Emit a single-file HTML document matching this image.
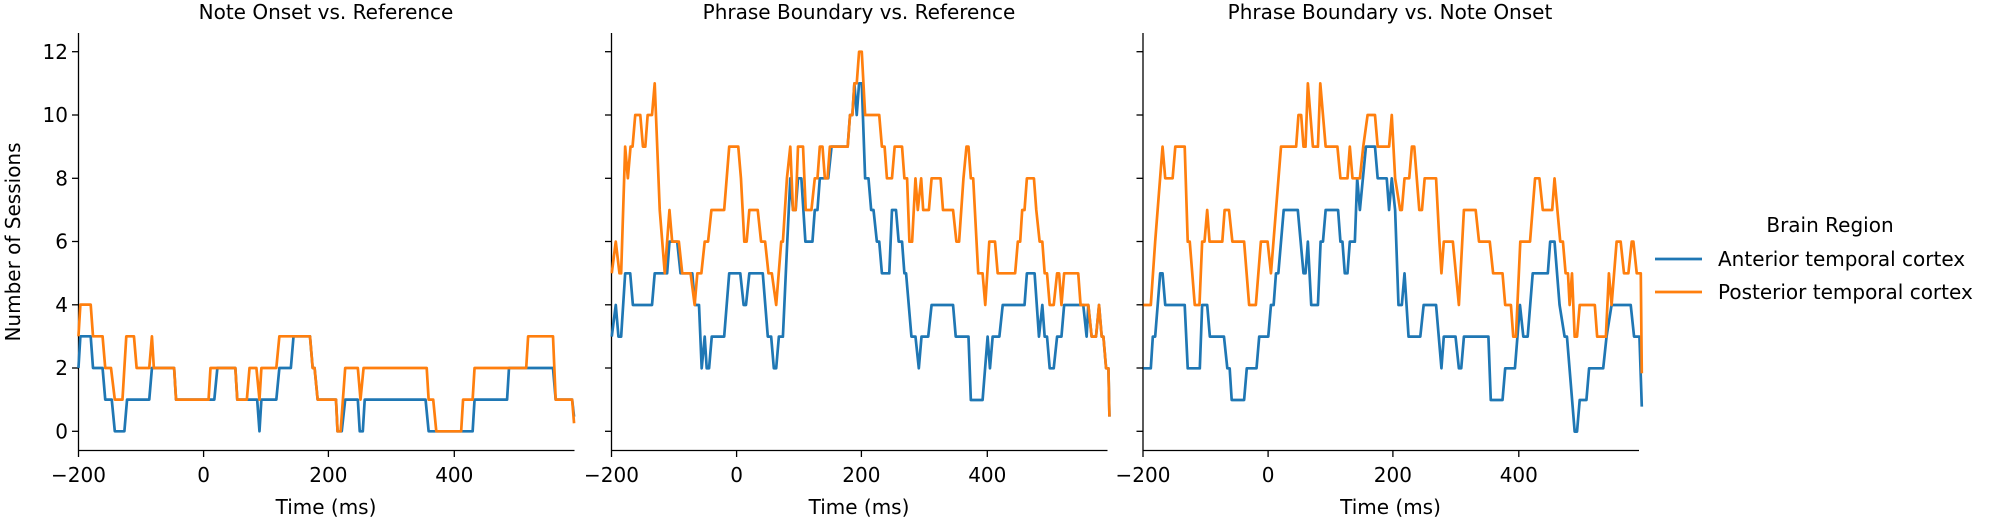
<!DOCTYPE html>
<html><head><meta charset="utf-8"><style>
html,body{margin:0;padding:0;background:#fff;}
svg text{font-family:"DejaVu Sans","Liberation Sans",sans-serif;fill:#000;}
</style></head><body>
<svg width="2005" height="520" viewBox="0 0 2005 520" xmlns="http://www.w3.org/2000/svg">
<defs>
<g id="axes">
  <line x1="78.5" y1="33" x2="78.5" y2="450.5" stroke="#000" stroke-width="1.3"/>
  <line x1="78" y1="450.5" x2="574.5" y2="450.5" stroke="#000" stroke-width="1.3"/>
  <g stroke="#000" stroke-width="1.3">
    <line x1="72" y1="51.7" x2="78.5" y2="51.7"/><line x1="72" y1="115" x2="78.5" y2="115"/>
    <line x1="72" y1="178.3" x2="78.5" y2="178.3"/><line x1="72" y1="241.5" x2="78.5" y2="241.5"/>
    <line x1="72" y1="304.8" x2="78.5" y2="304.8"/><line x1="72" y1="368" x2="78.5" y2="368"/>
    <line x1="72" y1="431.3" x2="78.5" y2="431.3"/>
    <line x1="78.5" y1="450.5" x2="78.5" y2="457"/><line x1="203.6" y1="450.5" x2="203.6" y2="457"/>
    <line x1="328.4" y1="450.5" x2="328.4" y2="457"/><line x1="454.3" y1="450.5" x2="454.3" y2="457"/>
  </g>
  <g font-size="20" text-anchor="middle">
    <text x="78.5" y="482">−200</text><text x="203.6" y="482">0</text>
    <text x="328.4" y="482">200</text><text x="454.3" y="482">400</text>
    <text x="326" y="514">Time (ms)</text>
  </g>
</g>
</defs>

<!-- Panel 1 -->
<use href="#axes"/>
<g font-size="20" text-anchor="end">
  <text x="68" y="59">12</text><text x="68" y="122">10</text><text x="68" y="185.5">8</text>
  <text x="68" y="248.5">6</text><text x="68" y="312">4</text><text x="68" y="375">2</text><text x="68" y="438.5">0</text>
</g>
<text x="20" y="242" font-size="20" text-anchor="middle" transform="rotate(-90 20 242)">Number of Sessions</text>
<text x="326" y="19" font-size="20" text-anchor="middle">Note Onset vs. Reference</text>
<g transform="scale(0.3827,0.3333)" fill="none" stroke-width="2.7" stroke-linejoin="round">
<polyline vector-effect="non-scaling-stroke" stroke="#1f77b4" points="205,1104 210,1009 237,1009 243,1104 268,1104 275,1199 292,1199 300,1294 325,1294 332,1199 390,1199 397,1104 455,1104 460,1199 560,1199 568,1104 615,1104 620,1199 672,1199 678,1294 683,1199 722,1199 730,1104 760,1104 767,1009 810,1009 817,1104 822,1104 830,1199 878,1199 882,1294 893,1294 902,1199 935,1199 940,1294 948,1294 953,1199 1112,1199 1120,1294 1235,1294 1240,1199 1325,1199 1330,1104 1445,1104 1452,1199 1495,1199 1500,1250"/>
<polyline vector-effect="non-scaling-stroke" stroke="#ff7f0e" points="205,1009 210,914 237,914 243,1009 268,1009 275,1104 290,1104 300,1199 320,1199 330,1009 350,1009 357,1104 390,1104 397,1009 402,1104 455,1104 460,1199 545,1199 550,1104 615,1104 620,1199 645,1199 652,1104 670,1104 678,1199 683,1104 722,1104 730,1009 810,1009 817,1104 822,1104 830,1199 878,1199 882,1294 890,1294 902,1104 935,1104 942,1199 950,1104 1115,1104 1120,1199 1132,1199 1140,1294 1205,1294 1210,1199 1235,1199 1240,1104 1375,1104 1380,1009 1445,1009 1452,1199 1495,1199 1500,1270"/>
</g>

<!-- Panel 2 -->
<use href="#axes" transform="translate(533,0)"/>
<text x="859" y="19" font-size="20" text-anchor="middle">Phrase Boundary vs. Reference</text>
<g transform="translate(600,40) scale(0.3356,0.3333)" fill="none" stroke-width="2.7" stroke-linejoin="round">
<polyline vector-effect="non-scaling-stroke" stroke="#1f77b4" points="35,890 47,795 55,890 63,890 75,700 90,700 98,795 155,795 163,700 200,700 207,605 230,605 240,700 275,700 283,795 295,795 303,985 312,890 318,985 325,985 333,890 370,890 385,700 418,700 428,795 435,795 445,700 485,700 500,890 510,890 518,985 525,985 533,890 545,890 558,605 567,415 575,510 583,510 590,415 600,415 612,605 633,605 640,510 648,510 655,415 680,415 690,320 738,320 745,225 752,225 758,130 765,225 772,130 780,130 790,415 800,415 808,510 815,510 825,605 832,605 840,700 862,700 870,510 882,510 890,605 900,605 907,700 912,700 928,890 940,890 950,985 958,890 978,890 988,795 1052,795 1060,890 1098,890 1105,1080 1140,1080 1155,890 1162,985 1170,890 1190,890 1200,795 1265,795 1272,700 1295,700 1308,890 1318,795 1325,890 1332,890 1340,985 1352,985 1362,890 1375,890 1383,795 1440,795 1450,890 1455,795 1465,890 1478,890 1487,795 1495,890 1500,890 1508,985 1515,985 1518,1130"/>
<polyline vector-effect="non-scaling-stroke" stroke="#ff7f0e" points="35,700 47,605 58,700 63,700 75,320 83,415 91,320 97,320 105,225 120,225 128,320 135,320 142,225 155,225 163,130 178,510 193,700 207,510 215,605 235,605 245,700 270,700 282,795 290,700 302,700 312,605 322,605 332,510 370,510 385,320 412,320 420,415 430,605 437,605 445,510 470,510 480,605 492,605 502,700 512,700 525,795 540,605 545,605 557,415 567,320 575,510 583,510 590,320 605,320 613,510 630,510 640,415 648,415 655,320 663,320 670,415 678,415 685,320 738,320 745,225 752,225 758,130 765,130 772,35 780,35 790,225 832,225 840,320 848,320 855,415 870,415 878,320 900,320 907,415 915,415 922,605 930,605 940,415 947,510 957,415 963,510 980,510 988,415 1015,415 1022,510 1052,510 1062,605 1070,605 1083,415 1092,320 1098,320 1105,415 1112,415 1127,700 1140,700 1148,795 1160,605 1177,605 1185,700 1237,700 1245,605 1252,605 1258,510 1265,510 1272,415 1293,415 1300,510 1310,605 1318,605 1325,700 1332,700 1340,795 1352,795 1362,700 1368,700 1375,795 1383,700 1425,700 1432,795 1455,795 1465,890 1478,890 1487,795 1495,890 1500,890 1508,985 1515,985 1518,1130"/>
</g>

<!-- Panel 3 -->
<use href="#axes" transform="translate(1064.5,0)"/>
<text x="1390" y="19" font-size="20" text-anchor="middle">Phrase Boundary vs. Note Onset</text>
<g transform="translate(1130,40) scale(0.3356,0.3333)" fill="none" stroke-width="2.7" stroke-linejoin="round">
<polyline vector-effect="non-scaling-stroke" stroke="#1f77b4" points="40,985 62,985 68,890 75,890 90,700 97,700 105,795 163,795 172,985 208,985 215,795 230,795 238,890 280,890 290,985 297,985 303,1080 340,1080 348,985 377,985 385,890 412,890 420,795 428,795 435,700 442,700 458,510 500,510 517,700 523,700 530,605 540,795 560,795 568,605 575,605 583,510 620,510 627,605 633,605 640,700 648,700 655,605 670,605 677,415 685,510 703,320 730,320 738,415 765,415 772,510 780,415 790,510 800,795 810,795 818,700 830,890 865,890 875,795 912,795 920,890 928,985 935,890 970,890 980,985 987,985 995,890 1068,890 1075,1080 1110,1080 1118,985 1147,985 1162,795 1172,890 1185,890 1200,700 1245,700 1252,605 1265,605 1280,795 1295,890 1302,890 1325,1175 1332,1175 1340,1080 1360,1080 1368,985 1410,985 1420,890 1435,795 1492,795 1502,890 1518,890 1525,1100"/>
<polyline vector-effect="non-scaling-stroke" stroke="#ff7f0e" points="40,795 62,795 75,605 97,320 105,415 127,415 135,320 163,320 172,605 178,605 193,795 207,795 215,605 222,605 230,510 237,605 275,605 282,510 295,510 305,605 340,605 355,795 375,795 390,605 410,605 420,700 435,510 450,320 495,320 502,225 510,225 517,320 523,320 530,130 545,320 560,320 567,130 583,320 618,320 627,415 648,415 655,320 663,415 685,415 695,320 708,225 730,225 738,320 772,320 780,225 790,415 805,510 810,510 818,415 832,415 840,320 847,320 862,510 870,510 878,415 912,415 922,605 928,700 935,605 962,605 980,795 995,510 1030,510 1040,605 1072,605 1082,700 1110,700 1118,795 1135,795 1142,890 1150,890 1163,605 1192,605 1207,415 1220,415 1230,510 1258,510 1265,415 1282,605 1290,605 1298,700 1305,700 1310,795 1317,700 1325,890 1332,890 1340,795 1385,795 1392,890 1418,890 1427,700 1435,795 1450,605 1462,605 1472,700 1485,700 1495,605 1500,605 1510,700 1522,700 1525,1000"/>
</g>

<!-- Legend -->
<text x="1830" y="232" font-size="20" text-anchor="middle">Brain Region</text>
<line x1="1655" y1="259" x2="1702" y2="259" stroke="#1f77b4" stroke-width="2.7"/>
<text x="1718" y="266" font-size="20">Anterior temporal cortex</text>
<line x1="1655" y1="292" x2="1702" y2="292" stroke="#ff7f0e" stroke-width="2.7"/>
<text x="1718" y="299" font-size="20">Posterior temporal cortex</text>
</svg>
</body></html>
